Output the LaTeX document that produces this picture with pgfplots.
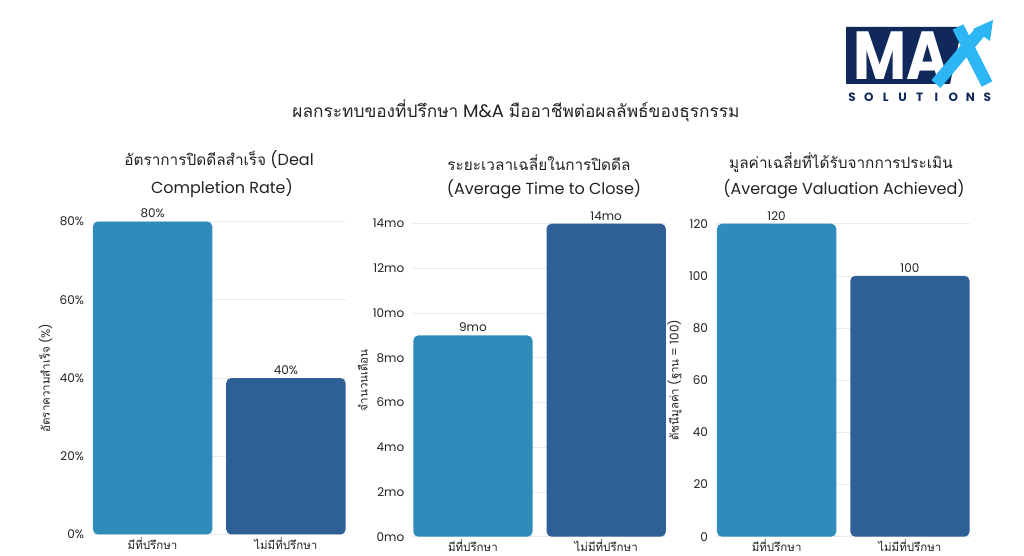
\documentclass[border=0pt]{standalone}
\usepackage{pgfplots}
\pgfplotsset{compat=1.18}
\usepackage{fontspec}
\setmainfont{Poppins}
\newfontfamily\thai[Script=Thai,Scale=0.96]{Loma}
\definecolor{barA}{HTML}{2E8BBA}
\definecolor{barB}{HTML}{2F5F97}
\definecolor{navy}{HTML}{11295A}
\definecolor{sky}{HTML}{2CB6F4}
\definecolor{gridc}{HTML}{EBEBEB}
\definecolor{txt}{HTML}{222222}
\pgfplotsset{
  panel/.style={
    scale only axis, width=253.5pt, height=313pt,
    anchor=south west,
    ymin=0,
    xmin=-0.451, xmax=1.451,
    axis line style={draw=none},
    tick style={draw=none},
    ymajorgrids, grid style={gridc, line width=0.7pt},
    xtick={0,1},
    xticklabels={{\thai มีที่ปรึกษา},{\thai ไม่มีที่ปรึกษา}},
    ticklabel style={font=\fontsize{12}{14}\selectfont, text=txt},
    yticklabel style={xshift=-5pt},
    xticklabel style={anchor=base, yshift=-11pt},
    every axis y label/.style={at={(axis description cs:0,0.5)}, rotate=90, anchor=center, font=\fontsize{12}{14}\selectfont, text=txt},
    ybar, bar width=0.895, 
    point meta=explicit symbolic,
    nodes near coords,
    nodes near coords style={font=\fontsize{12}{14}\selectfont, text=txt, anchor=south},
    clip=false,
  },
  barstyle/.style={draw=none, fill=#1, bar shift=0pt, rounded corners=5pt},
}
\begin{document}
\begin{tikzpicture}[x=1pt,y=1pt]
\path[use as bounding box] (0,0) rectangle (1024,556);

% Main title
\node[font=\fontsize{18}{21}\selectfont, text=txt] at (516,445) {{\thai ผลกระทบของที่ปรึกษา} M\&A {\thai มืออาชีพต่อผลลัพธ์ของธุรกรรม}};

% Panel titles
\begin{scope}[every node/.style={font=\fontsize{16}{19}\selectfont, text=txt}]
\node at (219,396) {{\thai อัตราการปิดดีลสำเร็จ} (Deal};
\node at (222,368) {Completion Rate)};
\node at (539,393) {\thai ระยะเวลาเฉลี่ยในการปิดดีล};
\node at (544,367) {(Average Time to Close)};
\node at (841,393) {\thai มูลค่าเฉลี่ยที่ได้รับจากการประเมิน};
\node at (844,367) {(Average Valuation Achieved)};
\end{scope}

% Panel 1
\begin{axis}[panel, at={(92.5pt,21.5pt)}, ymax=80,
  ytick={0,20,40,60,80}, yticklabels={0\%,20\%,40\%,60\%,80\%},
  ylabel={{\thai อัตราความสำเร็จ} (\%)},
  ylabel style={yshift=47pt}]
\addplot[barstyle=barA] coordinates {(0,80) [80\%]};
\addplot[barstyle=barB] coordinates {(1,40) [40\%]};
\end{axis}

% Panel 2
\begin{axis}[panel, at={(412.8pt,19.3pt)}, ymax=14,
  ytick={0,2,4,6,8,10,12,14}, yticklabels={0mo,2mo,4mo,6mo,8mo,10mo,12mo,14mo},
  ylabel={\thai จำนวนเดือน},
  ylabel style={yshift=50pt}]
\addplot[barstyle=barA] coordinates {(0,9) [9mo]};
\addplot[barstyle=barB] coordinates {(1,14) [14mo]};
\end{axis}

% Panel 3
\begin{axis}[panel, at={(716.5pt,19.3pt)}, ymax=120,
  ytick={0,20,40,60,80,100,120}, yticklabels={0,20,40,60,80,100,120},
  ylabel={{\thai ดัชนีมูลค่า} ({\thai ฐาน} = 100)},
  ylabel style={yshift=42pt}]
\addplot[barstyle=barA] coordinates {(0,120) [120]};
\addplot[barstyle=barB] coordinates {(1,100) [100]};
\end{axis}

% Logo
\fill[navy] (846,529) -- (962,529) -- (950,472) -- (846,472) -- cycle;
\node[text=white, inner sep=0pt, font=\fontsize{68}{68}\selectfont\bfseries, xscale=0.85, anchor=center] at (901,500) {MA};
\draw[sky, line width=12pt] (936,472) -- (980,524);
\draw[sky, line width=12pt] (958,529) -- (987,472);
\fill[sky] (973,527) -- (993,536) -- (990,515) -- cycle;
\foreach \l [count=\i from 0] in {S,O,L,U,T,I,O,N,S} {
  \node[text=navy, inner sep=0pt, font=\fontsize{12}{12}\selectfont\bfseries] at (852+\i*16.9,459) {\l};
}
\end{tikzpicture}
\end{document}
